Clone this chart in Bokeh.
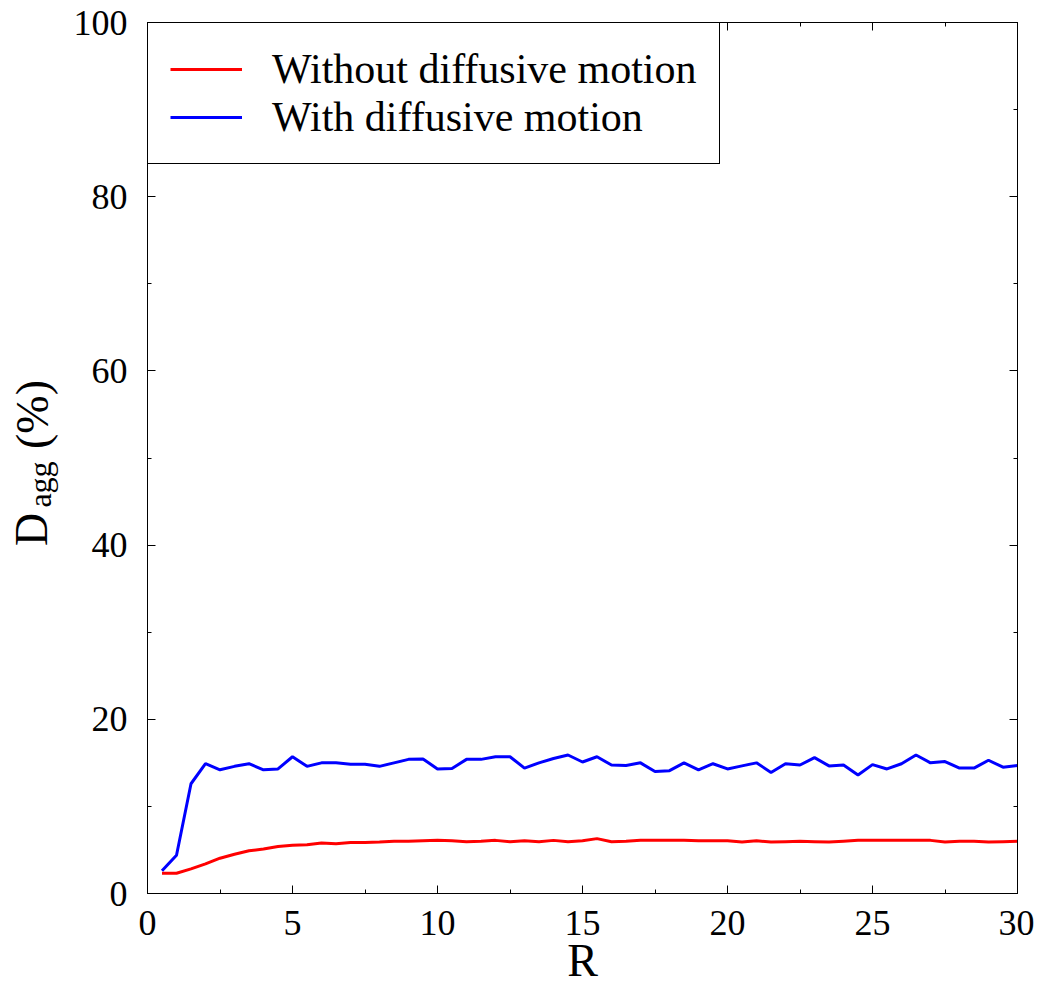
import math
from bokeh.plotting import figure
from bokeh.layouts import row
from bokeh.models import Range1d, LinearAxis, FixedTicker
from bokeh.core.properties import value
from bokeh.embed import file_html
from bokeh.resources import INLINE

R = [0.5, 1.0, 1.5, 2.0, 2.5, 3.0, 3.5, 4.0, 4.5, 5.0,
     5.5, 6.0, 6.5, 7.0, 7.5, 8.0, 8.5, 9.0, 9.5, 10.0,
     10.5, 11.0, 11.5, 12.0, 12.5, 13.0, 13.5, 14.0, 14.5, 15.0,
     15.5, 16.0, 16.5, 17.0, 17.5, 18.0, 18.5, 19.0, 19.5, 20.0,
     20.5, 21.0, 21.5, 22.0, 22.5, 23.0, 23.5, 24.0, 24.5, 25.0,
     25.5, 26.0, 26.5, 27.0, 27.5, 28.0, 28.5, 29.0, 29.5, 30.0]

without_diffusion = [2.33, 2.33, 2.83, 3.4, 4.05, 4.5, 4.9, 5.1, 5.4, 5.55,
                     5.6, 5.8, 5.7, 5.85, 5.85, 5.9, 6.0, 6.0, 6.05, 6.1,
                     6.05, 5.95, 6.0, 6.1, 5.95, 6.05, 5.95, 6.1, 5.95, 6.05,
                     6.3, 5.95, 6.0, 6.1, 6.1, 6.1, 6.1, 6.05, 6.05, 6.05,
                     5.9, 6.05, 5.9, 5.95, 6.0, 5.95, 5.9, 6.0, 6.1, 6.1,
                     6.1, 6.1, 6.1, 6.1, 5.9, 6.0, 6.0, 5.9, 5.95, 6.0]

with_diffusion = [2.6, 4.4, 12.6, 14.9, 14.2, 14.6, 14.9, 14.2, 14.3, 15.7,
                  14.6, 15.0, 15.0, 14.85, 14.85, 14.6, 15.0, 15.4, 15.45, 14.3,
                  14.35, 15.4, 15.4, 15.7, 15.7, 14.4, 15.0, 15.5, 15.9, 15.1,
                  15.7, 14.75, 14.7, 15.0, 14.0, 14.1, 15.0, 14.2, 14.9, 14.3,
                  14.65, 15.0, 13.9, 14.9, 14.75, 15.6, 14.65, 14.75, 13.6, 14.8,
                  14.3, 14.9, 15.9, 15.0, 15.15, 14.4, 14.4, 15.3, 14.5, 14.7]

x_ticks = [0, 5, 10, 15, 20, 25, 30]
x_minor = [2.5, 7.5, 12.5, 17.5, 22.5, 27.5]
y_ticks = [0, 20, 40, 60, 80, 100]
y_minor = [10, 30, 50, 70, 90]

FONT = "Liberation Serif"
TOP, FH, BOT = 22, 871, 105
FRAME_BOTTOM = TOP + FH  # page y of the frame bottom

p = figure(frame_width=870, frame_height=FH,
           x_range=Range1d(0, 30), y_range=Range1d(0, 100),
           output_backend="svg", toolbar_location=None,
           min_border_left=85, min_border_right=17,
           min_border_top=TOP, min_border_bottom=BOT)
p.background_fill_color = "white"
p.border_fill_color = "white"
p.outline_line_color = "black"
p.outline_line_width = 1
p.xgrid.visible = False
p.ygrid.visible = False

p.line(R, without_diffusion, line_color="#ff0000", line_width=3, legend_label="Without diffusive motion")
p.line(R, with_diffusion, line_color="#0000ff", line_width=3, legend_label="With diffusive motion")

def style_axis(ax, ticks, minor, show_labels):
    ax.ticker = FixedTicker(ticks=ticks, minor_ticks=minor)
    ax.major_tick_in = 8
    ax.major_tick_out = 0
    ax.minor_tick_in = 4
    ax.minor_tick_out = 0
    ax.axis_line_color = "black"
    ax.major_tick_line_color = "black"
    ax.minor_tick_line_color = "black"
    ax.major_label_text_font = FONT
    if show_labels:
        ax.major_label_text_color = "black"
        ax.major_label_text_font_size = "36px"
    else:
        ax.major_label_text_color = None
        ax.major_label_text_font_size = "1px"
        ax.major_label_standoff = 0

xa = p.xaxis[0]
ya = p.yaxis[0]
style_axis(xa, x_ticks, x_minor, True)
style_axis(ya, y_ticks, y_minor, True)
xa.major_label_standoff = 17
ya.major_label_standoff = 20

xa.axis_label = "R"
xa.axis_label_text_font = FONT
xa.axis_label_text_font_size = "46px"
xa.axis_label_text_font_style = "normal"
xa.axis_label_text_color = "black"
xa.axis_label_standoff = -3

top = LinearAxis()
right = LinearAxis()
p.add_layout(top, "above")
p.add_layout(right, "right")
style_axis(top, x_ticks, x_minor, False)
style_axis(right, y_ticks, y_minor, False)

lg = p.legend[0]
lg.location = "top_left"
lg.margin = 0
lg.padding = 22
lg.spacing = 0
lg.border_line_color = "black"
lg.border_line_width = 1
lg.border_line_alpha = 1
lg.background_fill_color = "white"
lg.background_fill_alpha = 1
lg.label_text_font = FONT
lg.label_text_font_size = "42px"
lg.label_text_color = "black"
lg.glyph_width = 72
lg.glyph_height = 40
lg.label_height = 40
lg.label_standoff = 30

# y-axis title with subscript, drawn in a narrow strip left of the plot whose
# frame matches the main frame vertically; its ranges are in pixels
SW = 62
t = figure(frame_width=SW, frame_height=FH, x_range=Range1d(0, SW), y_range=Range1d(0, FH),
           output_backend="svg", toolbar_location=None,
           min_border_left=0, min_border_right=0, min_border_top=TOP, min_border_bottom=BOT)
t.axis.visible = False
t.xgrid.visible = False
t.ygrid.visible = False
t.outline_line_color = None
t.background_fill_color = "white"
t.border_fill_color = "white"
t.text(x=[31.2], y=[FRAME_BOTTOM - 529], text=["D"], angle=math.pi / 2,
       text_font=value(FONT), text_font_size=value("46px"),
       text_align="center", text_baseline="middle", text_color="black")
t.text(x=[39.5], y=[FRAME_BOTTOM - 484], text=["agg"], angle=math.pi / 2,
       text_font=value(FONT), text_font_size=value("32px"),
       text_align="center", text_baseline="middle", text_color="black")
t.text(x=[31.5], y=[FRAME_BOTTOM - 414], text=["(%)"], angle=math.pi / 2,
       text_font=value(FONT), text_font_size=value("46px"),
       text_align="center", text_baseline="middle", text_color="black")

layout = row(t, p, spacing=0)
open("out.html", "w").write(file_html(layout, INLINE))
